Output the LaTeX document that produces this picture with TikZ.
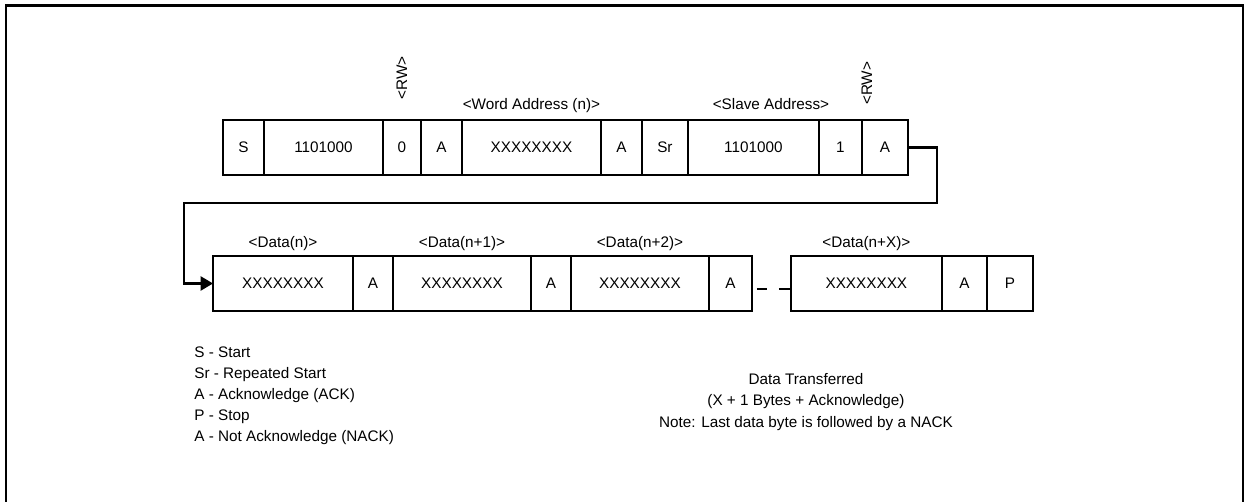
\documentclass[tikz,border=0pt]{standalone}
\usepackage{fontspec}
\setmainfont{Liberation Sans}
\usepackage{tikz}
\usetikzlibrary{arrows.meta, positioning}
\tikzset{
    field/.style={rectangle, draw, line width=1.2pt, inner sep=0pt, outer sep=0pt, minimum height=1.1cm},
    tag/.style={inner sep=0pt, text depth=0pt},
    note/.style={inner sep=0pt},
    link/.style={-{Triangle[length=7pt, width=8pt]}, line width=1.2pt},
    gap/.style={line width=1.2pt, dash pattern=on 0pt off 2.8pt on 5.7pt off 6.8pt on 7pt},
    frame/.style={line width=1.7pt}
}
\begin{document}
\begin{tikzpicture}[x=0.02cm, y=-0.02cm, font=\fontsize{8.7}{12}\selectfont, node distance=0pt]
            \useasboundingbox (0,0) rectangle (1244,502);
            \draw [frame] (6,502) -- (6,6) -- (1243,6) -- (1243,502);

            \node (st) [field, minimum width=0.82cm, anchor=west] at (223,147.5) {S};
            \node (sadr) [field, right=of st, minimum width=2.38cm] {1101000};
            \node (bitw) [field, right=of sadr, minimum width=0.76cm] {0};
            \node (ack0) [field, right=of bitw, minimum width=0.82cm] {A};
            \node (wadr) [field, right=of ack0, minimum width=2.78cm] {XXXXXXXX};
            \node (ack1) [field, right=of wadr, minimum width=0.82cm] {A};
            \node (rst) [field, right=of ack1, minimum width=0.92cm] {Sr};
            \node (sadr2) [field, right=of rst, minimum width=2.62cm] {1101000};
            \node (bitr) [field, right=of sadr2, minimum width=0.86cm] {1};
            \node (ack2) [field, right=of bitr, minimum width=0.92cm] {A};

            \node (rwlo) [tag, rotate=90, anchor=west] at ([yshift=11.4pt]bitw.north) {<RW>};
            \node (rwhi) [tag, rotate=90, anchor=west] at ([xshift=2.8pt, yshift=8.5pt]bitr.north east) {<RW>};
            \node (lword) [tag, above=6pt of wadr] {<Word Address (n)>};
            \node (lslave) [tag, above=6pt of sadr2, xshift=10pt] {<Slave Address>};

            \node (dat0) [field, minimum width=2.8cm, anchor=west] at (213,283.5) {XXXXXXXX};
            \node (dack0) [field, right=of dat0, minimum width=0.8cm] {A};
            \node (dat1) [field, right=of dack0, minimum width=2.76cm] {XXXXXXXX};
            \node (dack1) [field, right=of dat1, minimum width=0.8cm] {A};
            \node (dat2) [field, right=of dack1, minimum width=2.76cm] {XXXXXXXX};
            \node (dack2) [field, right=of dat2, minimum width=0.86cm] {A};
            \node (datx) [field, right=0.78cm of dack2, minimum width=3.02cm] {XXXXXXXX};
            \node (dackx) [field, right=of datx, minimum width=0.9cm] {A};
            \node (stp) [field, right=of dackx, minimum width=0.92cm] {P};

            \node (ldat0) [tag, above=4.8pt of dat0] {<Data(n)>};
            \node (ldat1) [tag, above=4.8pt of dat1] {<Data(n+1)>};
            \node (ldat2) [tag, above=4.8pt of dat2] {<Data(n+2)>};
            \node (ldatx) [tag, above=4.8pt of datx] {<Data(n+X)>};

            \coordinate (bendR) at (937,203);
            \coordinate (bendL) at (184,203);
            \draw [link] (ack2.east) -| (bendR) -- (bendL) |- (dat0.west);
            \draw [gap] ([yshift=-3pt]dack2.east) -- ([yshift=-3pt]datx.west);

            \node (legend) [note, align=left, anchor=north west] at (194,346) {S - Start\\Sr - Repeated Start\\A - Acknowledge (ACK)\\P - Stop\\A - Not Acknowledge (NACK)};
            \node (summary) [note, align=center] at (806,402) {Data Transferred\\(X + 1 Bytes + Acknowledge)\\Note: Last data byte is followed by a NACK};
		\end{tikzpicture}
\end{document}
